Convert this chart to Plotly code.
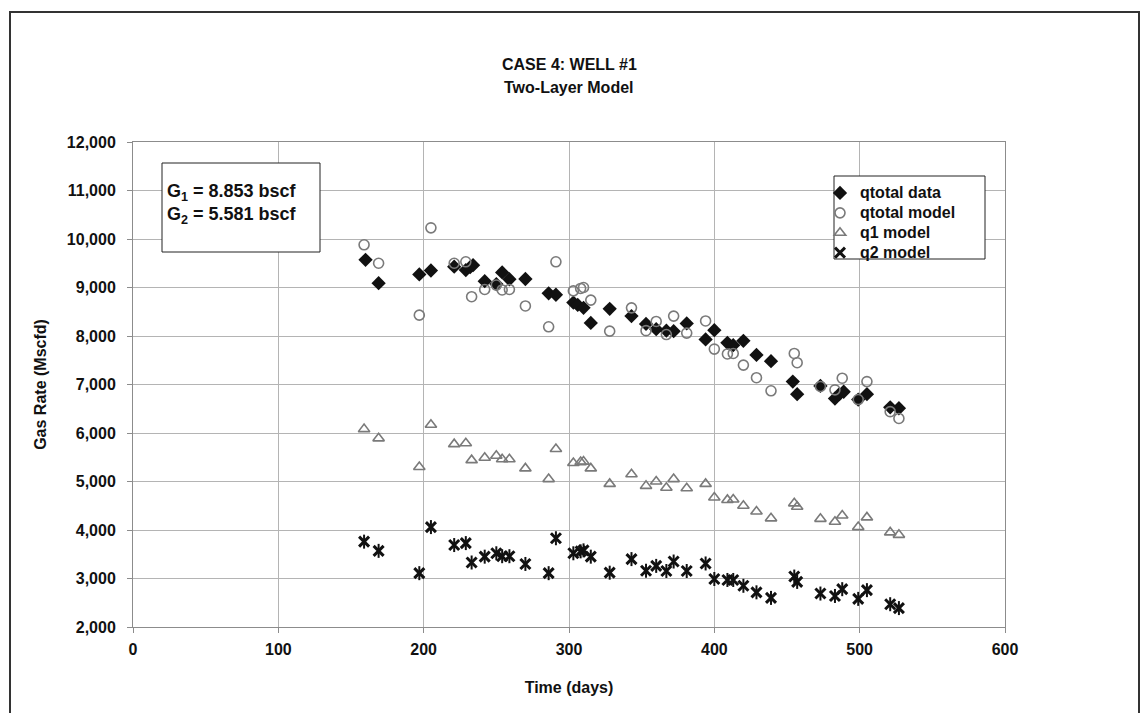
import plotly.graph_objects as go

# qtotal data (filled diamonds)
data_days = [160, 169, 197, 205, 221, 229, 232, 234, 242, 250, 254, 259, 270, 286, 291,
             303, 306, 310, 315, 328, 343, 353, 360, 367, 372, 381, 394, 400, 409, 413,
             420, 429, 439, 454, 457, 473, 483, 486, 489, 499, 505, 521, 527]
qtotal_data = [9570, 9090, 9270, 9350, 9430, 9360, 9420, 9460, 9130, 9070, 9310, 9170, 9175, 8880, 8850,
               8690, 8640, 8580, 8270, 8560, 8410, 8250, 8140, 8110, 8100, 8260, 7930, 8120, 7860, 7810,
               7900, 7610, 7480, 7060, 6800, 6970, 6710, 6800, 6850, 6690, 6800, 6530, 6510]

# model series
model_days = [159, 169, 197, 205, 221, 229, 233, 242, 250, 254, 259, 270, 286, 291, 303, 308, 310, 315,
              328, 343, 353, 360, 367, 372, 381, 394, 400, 409, 413, 420, 429, 439, 455, 457, 473, 483,
              488, 499, 505, 521, 527]
qtotal_model = [9880, 9500, 8430, 10230, 9500, 9530, 8810, 8960, 9050, 8950, 8960, 8620, 8190, 9530, 8930,
                8980, 9000, 8740, 8100, 8580, 8110, 8300, 8030, 8410, 8060, 8310, 7730, 7630, 7640, 7400,
                7140, 6870, 7640, 7450, 6960, 6890, 7130, 6690, 7060, 6440, 6300]
q1_model = [6080, 5890, 5300, 6170, 5770, 5790, 5440, 5490, 5530, 5460, 5460, 5270, 5050, 5670, 5380,
            5400, 5410, 5270, 4950, 5150, 4910, 5000, 4870, 5050, 4860, 4950, 4670, 4620, 4630, 4500,
            4380, 4240, 4550, 4480, 4230, 4170, 4300, 4060, 4260, 3950, 3900]
q2_model = [3760, 3570, 3110, 4060, 3690, 3730, 3330, 3450, 3520, 3460, 3460, 3300, 3110, 3830, 3520,
            3560, 3580, 3450, 3120, 3400, 3160, 3260, 3155, 3350, 3155, 3310, 2990, 2970, 2970, 2850,
            2715, 2600, 3040, 2930, 2690, 2640, 2780, 2580, 2760, 2470, 2390]

x_ticks = [0, 100, 200, 300, 400, 500, 600]
y_ticks = [2000, 3000, 4000, 5000, 6000, 7000, 8000, 9000, 10000, 11000, 12000]

title_l1 = "CASE 4: WELL #1"
title_l2 = "Two-Layer Model"
g_text = "G<sub>1</sub> = 8.853 bscf<br>G<sub>2</sub> = 5.581 bscf"
legend_names = ["qtotal data", "qtotal model", "q1 model", "q2 model"]

FONT = "Liberation Sans, Arial, sans-serif"
NARROW = "Liberation Sans Narrow, Arial Narrow, Liberation Sans, sans-serif"
INK = "#111111"
GREY = "#7a7a7a"

def lname(s):
    return "<span style='font-size:16px'><b>" + s + "</b></span>"

fig = go.Figure()
fig.add_trace(go.Scatter(x=data_days, y=qtotal_data, mode="markers", name=lname(legend_names[0]),
                         marker=dict(symbol="diamond", size=11, color=INK, line=dict(width=0))))
fig.add_trace(go.Scatter(x=model_days, y=qtotal_model, mode="markers", name=lname(legend_names[1]),
                         marker=dict(symbol="circle-open", size=10, color=GREY,
                                     line=dict(width=1.6, color=GREY))))
fig.add_trace(go.Scatter(x=model_days, y=q1_model, mode="markers", name=lname(legend_names[2]),
                         marker=dict(symbol="triangle-up-open", size=10, color=GREY,
                                     line=dict(width=1.6, color=GREY))))
fig.add_trace(go.Scatter(x=model_days, y=q2_model, mode="markers", name=lname(legend_names[3]),
                         marker=dict(symbol="x-thin-open", size=10, color=INK,
                                     line=dict(width=3, color=INK))))
fig.add_trace(go.Scatter(x=model_days, y=q2_model, mode="markers", name="q2 model (bar)",
                         showlegend=False,
                         marker=dict(symbol="line-ns-open", size=10, color=INK,
                                     line=dict(width=2, color=INK))))

L, R, T, B = 133, 1005, 142, 627
W, H = 1143, 713
pw, ph = R - L, B - T

def px(xp):
    return (xp - L) / pw

def py(yp):
    return (B - yp) / ph

axis_common = dict(showgrid=True, gridcolor="#b4b4b4", gridwidth=1, zeroline=False,
                   showline=True, linecolor="#8c8c8c", linewidth=1, mirror=True,
                   ticks="outside", ticklen=5, tickcolor="#8c8c8c",
                   tickfont=dict(family=FONT, size=16, color=INK))

fig.update_xaxes(range=[0, 600], tickvals=x_ticks, ticktext=["<b>{}</b>".format(v) for v in x_ticks],
                 ticklabelstandoff=3,
                 title=dict(text="<b>Time (days)</b>", font=dict(family=FONT, size=16, color=INK),
                            standoff=24),
                 **axis_common)
fig.update_yaxes(range=[2000, 12000], tickvals=y_ticks,
                 ticktext=["<b>{:,}</b>".format(v) for v in y_ticks],
                 ticklabelstandoff=8,
                 title=dict(text="<b>Gas Rate (Mscfd)</b>", font=dict(family=FONT, size=16, color=INK),
                            standoff=16),
                 **axis_common)

fig.update_layout(
    width=W, height=H,
    margin=dict(l=L, r=W - R, t=T, b=H - B, autoexpand=False),
    paper_bgcolor="white", plot_bgcolor="white",
    showlegend=True,
    legend=dict(x=px(820), y=py(178), xanchor="left", yanchor="top",
                borderwidth=0, bgcolor="rgba(0,0,0,0)",
                font=dict(family=FONT, size=13, color=INK),
                tracegroupgap=0, itemwidth=30),
    annotations=[
        dict(text="<b>" + title_l1 + "</b>", x=0.5, y=py(65), xref="paper", yref="paper",
             showarrow=False, font=dict(family=NARROW, size=16, color=INK),
             xanchor="center", yanchor="middle"),
        dict(text="<b>" + title_l2 + "</b>", x=0.5, y=py(88), xref="paper", yref="paper",
             showarrow=False, font=dict(family=NARROW, size=16, color=INK),
             xanchor="center", yanchor="middle"),
        dict(text="<b>" + g_text + "</b>", x=px(165), y=py(179), xref="paper", yref="paper",
             showarrow=False, align="left", xanchor="left", yanchor="top",
             font=dict(family=FONT, size=18, color=INK)),
    ],
    shapes=[
        dict(type="rect", xref="paper", yref="paper", x0=px(10), x1=px(1139), y0=py(740), y1=py(12),
             line=dict(color="#333333", width=2), fillcolor="rgba(0,0,0,0)", layer="below"),
        # G text box
        dict(type="rect", xref="paper", yref="paper", x0=px(162), x1=px(320), y0=py(252), y1=py(163),
             line=dict(color="#222222", width=1), fillcolor="white", layer="above"),
        # legend box
        dict(type="rect", xref="paper", yref="paper", x0=px(834), x1=px(985), y0=py(259), y1=py(176),
             line=dict(color="#222222", width=1), fillcolor="white", layer="above"),
    ],
)

fig.write_html("out.html")
